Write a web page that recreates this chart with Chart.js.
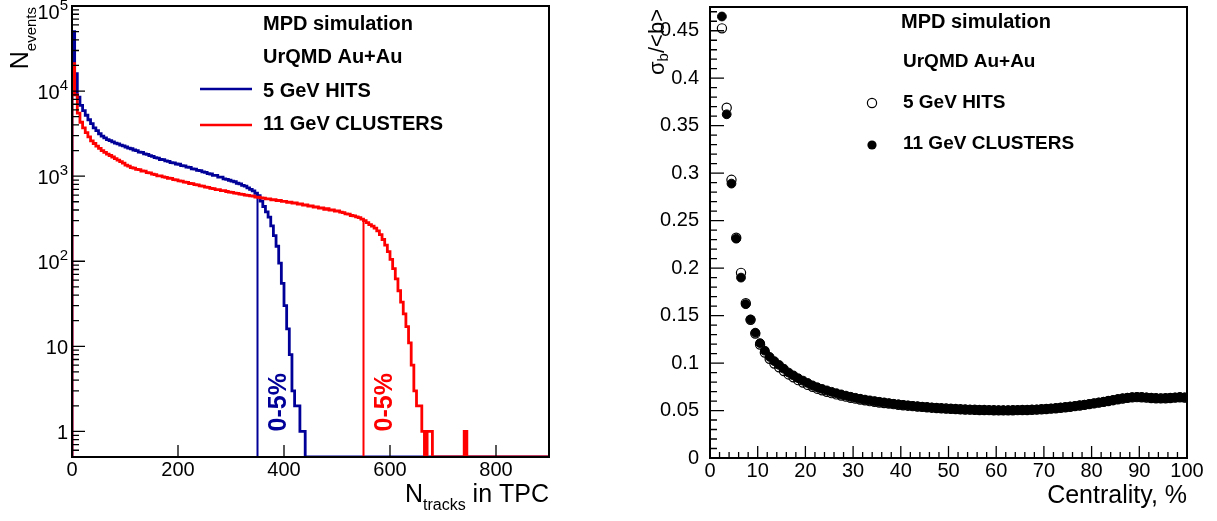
<!DOCTYPE html>
<html>
<head>
<meta charset="utf-8">
<title>MPD simulation</title>
<script src="https://cdn.jsdelivr.net/npm/chart.js@4.4.1/dist/chart.umd.min.js"></script>
<style>
  html, body { margin: 0; padding: 0; background: #fff; }
  #wrap { position: relative; width: 1217px; height: 521px; }
  canvas { position: absolute; top: 0; }
</style>
</head>
<body>
<div id="wrap">
  <canvas id="nTracks" width="608" height="521" style="left:0"></canvas>
  <canvas id="sigmaB" width="609" height="521" style="left:608px"></canvas>
</div>
<script>
// ---- left panel: N_tracks in TPC, events per 5-track bin starting at 0 ----
var BIN_WIDTH = 5;
var N_MAX = 900;
var EVENTS_MIN = 0.5;
var hitsCounts = [
  50000, 16000, 8500, 6800, 5900, 5200, 4600, 4150, 3700, 3420,
  3150, 2960, 2820, 2690, 2610, 2530, 2440, 2390, 2310, 2270,
  2200, 2140, 2100, 2030, 2000, 1920, 1900, 1830, 1800, 1740,
  1710, 1650, 1630, 1570, 1560, 1510, 1490, 1440, 1430, 1390,
  1380, 1330, 1320, 1280, 1270, 1220, 1210, 1170, 1160, 1120,
  1110, 1070, 1060, 1020, 1020, 975, 975, 930, 915, 895,
  875, 860, 825, 810, 780, 765, 730, 700, 670, 630,
  590, 510, 440, 380, 330, 260, 200, 150, 95, 55,
  30, 16, 8, 3, 2, 2, 1, 1
];
var clusterCounts = [
  21000, 9000, 5500, 4300, 3700, 3250, 2900, 2600, 2420, 2260,
  2120, 2000, 1900, 1820, 1750, 1680, 1610, 1540, 1480, 1420,
  1350, 1310, 1260, 1245, 1200, 1195, 1150, 1145, 1100, 1095,
  1055, 1045, 1010, 1005, 980, 970, 945, 940, 910, 905,
  880, 875, 850, 845, 820, 815, 795, 790, 770, 765,
  745, 740, 720, 715, 695, 695, 675, 675, 660, 650,
  645, 632, 628, 615, 612, 600, 596, 585, 582, 568,
  565, 555, 552, 540, 540, 528, 530, 515, 518, 505,
  505, 493, 495, 482, 484, 470, 472, 458, 460, 445,
  447, 433, 435, 420, 424, 408, 415, 398, 400, 388,
  390, 378, 372, 360, 358, 345, 342, 332, 326, 312,
  300, 285, 270, 258, 245, 228, 205, 180, 155, 130,
  105, 82, 62, 45, 33, 24, 17, 11, 6, 3,
  2, 2, 1, 0, 1, 1, 0, 0, 0, 0,
  0, 0, 0, 0, 0, 0, 0, 0, 1
];
var hitsCut = 350;      // 0-5% centrality cut, 5 GeV HITS
var clusterCut = 550;   // 0-5% centrality cut, 11 GeV CLUSTERS
var nTrackTicks = [0, 200, 400, 600, 800];
var eventDecades = [0, 1, 2, 3, 4, 5];

// ---- right panel: sigma_b/<b> per 1% centrality bin, first bin centred at 2.5 ----
var CENT_FIRST = 2.5;
var CENT_STEP = 1;
var sigmaHits = [
  0.4525, 0.369, 0.293, 0.232, 0.195, 0.163, 0.1455, 0.131, 0.1195, 0.111,
  0.1045, 0.0995, 0.0955, 0.0915, 0.088, 0.085, 0.082, 0.0795, 0.077, 0.075,
  0.073, 0.0713, 0.0698, 0.0683, 0.067, 0.0658, 0.0646, 0.0635, 0.0625, 0.0616,
  0.0607, 0.0599, 0.0592, 0.0585, 0.0579, 0.0573, 0.0567, 0.0561, 0.0556, 0.0551,
  0.0546, 0.0542, 0.0538, 0.0534, 0.053, 0.0527, 0.0524, 0.0521, 0.0518, 0.0516,
  0.0513, 0.0511, 0.0509, 0.0508, 0.0506, 0.0505, 0.0504, 0.0503, 0.0502, 0.0502,
  0.0502, 0.0503, 0.0504, 0.0505, 0.0506, 0.0508, 0.051, 0.0513, 0.0516, 0.052,
  0.0524, 0.0529, 0.0534, 0.054, 0.0546, 0.0553, 0.056, 0.0567, 0.0575, 0.0583,
  0.0591, 0.06, 0.0609, 0.0618, 0.0626, 0.0633, 0.0638, 0.0641, 0.064, 0.0636,
  0.0632, 0.0629, 0.0628, 0.0629, 0.0632, 0.0636, 0.064, 0.0636
];
var sigmaClusters = [
  0.465, 0.362, 0.289, 0.231, 0.19, 0.162, 0.146, 0.132, 0.121, 0.113,
  0.1065, 0.102, 0.098, 0.094, 0.09, 0.087, 0.084, 0.0815, 0.079, 0.0765,
  0.0745, 0.0728, 0.0712, 0.0697, 0.0683, 0.067, 0.0657, 0.0645, 0.0634, 0.0624,
  0.0615, 0.0607, 0.0599, 0.0592, 0.0585, 0.0578, 0.0571, 0.0565, 0.0559, 0.0553,
  0.0548, 0.0543, 0.0539, 0.0535, 0.0531, 0.0527, 0.0524, 0.0521, 0.0518, 0.0515,
  0.0513, 0.0511, 0.0509, 0.0507, 0.0506, 0.0505, 0.0504, 0.0503, 0.0503, 0.0503,
  0.0503, 0.0504, 0.0505, 0.0506, 0.0507, 0.0509, 0.0511, 0.0514, 0.0517, 0.0521,
  0.0525, 0.053, 0.0535, 0.0541, 0.0547, 0.0554, 0.0561, 0.0568, 0.0576, 0.0584,
  0.0592, 0.0601, 0.061, 0.0619, 0.0627, 0.0634, 0.064, 0.0643, 0.0642, 0.0638,
  0.0634, 0.0631, 0.0629, 0.063, 0.0633, 0.0637, 0.0641, 0.0638
];
var centralityTicks = [0, 10, 20, 30, 40, 50, 60, 70, 80, 90, 100];
var sigmaTicks = [0, 0.05, 0.1, 0.15, 0.2, 0.25, 0.3, 0.35, 0.4, 0.45];

var FONT = '"Liberation Sans", Arial, Helvetica, sans-serif';
var BLUE = '#000099';
var RED = '#ff0000';

// histogram as a step line; empty bins sit on the bottom of the log axis
function histPoints(counts) {
  var pts = [{ x: 0, y: EVENTS_MIN }];
  for (var i = 0; i < N_MAX / BIN_WIDTH; i++) {
    var v = i < counts.length ? counts[i] : 0;
    pts.push({ x: i * BIN_WIDTH, y: Math.max(v, EVENTS_MIN) });
  }
  pts.push({ x: N_MAX, y: pts[pts.length - 1].y });
  return pts;
}

function cutPoints(counts, cut) {
  return [{ x: cut, y: EVENTS_MIN }, { x: cut, y: counts[Math.floor(cut / BIN_WIDTH)] }];
}

function scatterPoints(values) {
  return values.map(function (v, i) { return { x: CENT_FIRST + i * CENT_STEP, y: v }; });
}

function txt(c, s, x, y, size, bold, align) {
  c.font = (bold ? 'bold ' : '') + size + 'px ' + FONT;
  c.textAlign = align || 'left';
  c.textBaseline = 'alphabetic';
  c.fillText(s, x, y);
  return c.measureText(s).width;
}

function width(c, s, size, bold) {
  c.font = (bold ? 'bold ' : '') + size + 'px ' + FONT;
  return c.measureText(s).width;
}

// ROOT-like frame: box plus ticks pointing into the pad
function rootFrame(opts) {
  return {
    id: 'rootFrame',
    afterDraw: function (chart) {
      var c = chart.ctx, a = chart.chartArea;
      var xs = chart.scales.x, ys = chart.scales.y;
      c.save();
      c.strokeStyle = '#000';
      c.lineWidth = 1.3;
      c.beginPath();
      opts.xTicks.forEach(function (t) {
        var px = xs.getPixelForValue(t[0]);
        c.moveTo(px, a.bottom);
        c.lineTo(px, a.bottom - t[1]);
      });
      opts.yTicks.forEach(function (t) {
        var py = ys.getPixelForValue(t[0]);
        c.moveTo(a.left, py);
        c.lineTo(a.left + t[1], py);
      });
      c.stroke();
      c.lineWidth = 2;
      c.strokeRect(a.left, a.top, a.right - a.left, a.bottom - a.top);
      c.fillStyle = '#000';
      opts.decorate(chart, c, a, xs, ys);
      c.restore();
    }
  };
}

function fixBox(w, h) {
  return function (s) {
    if (w) s.width = w;
    if (h) s.height = h;
    s.paddingTop = 0; s.paddingBottom = 0; s.paddingLeft = 0; s.paddingRight = 0;
  };
}

// ---------- left chart ----------
var leftXTicks = nTrackTicks.map(function (v) { return [v, 12]; });
var leftYTicks = [];
eventDecades.forEach(function (d) { leftYTicks.push([Math.pow(10, d), 13]); });
for (var d = -1; d < 5; d++) {
  for (var k = 2; k <= 9; k++) {
    var v = k * Math.pow(10, d);
    if (v >= EVENTS_MIN) leftYTicks.push([v, 7]);
  }
}

new Chart(document.getElementById('nTracks'), {
  type: 'line',
  data: {
    datasets: [
      { label: '11 GeV CLUSTERS', data: histPoints(clusterCounts), borderColor: RED, stepped: 'before', order: 0 },
      { label: 'cut 11 GeV', data: cutPoints(clusterCounts, clusterCut), borderColor: RED, borderWidth: 2, order: 1 },
      { label: '5 GeV HITS', data: histPoints(hitsCounts), borderColor: BLUE, stepped: 'before', order: 2 },
      { label: 'cut 5 GeV', data: cutPoints(hitsCounts, hitsCut), borderColor: BLUE, borderWidth: 2, order: 3 }
    ]
  },
  options: {
    responsive: false,
    animation: false,
    events: [],
    layout: { padding: { left: 0, right: 59, top: 6, bottom: 0 } },
    elements: { point: { radius: 0 }, line: { borderWidth: 2.8, tension: 0 } },
    plugins: { legend: { display: false }, tooltip: { enabled: false } },
    scales: {
      x: {
        type: 'linear', min: 0, max: N_MAX,
        grid: { display: false }, border: { display: false },
        ticks: { stepSize: 200, includeBounds: false, autoSkip: false, maxRotation: 0,
                 padding: -7, color: '#000', font: { family: FONT, size: 20 } },
        afterFit: fixBox(0, 64)
      },
      y: {
        type: 'logarithmic', min: EVENTS_MIN, max: 100000,
        grid: { display: false }, border: { display: false },
        ticks: { display: false },
        afterFit: fixBox(72, 0)
      }
    }
  },
  plugins: [rootFrame({
    xTicks: leftXTicks,
    yTicks: leftYTicks,
    decorate: function (chart, c, a, xs, ys) {
      // decade labels with superscript exponents
      eventDecades.forEach(function (d) {
        var py = ys.getPixelForValue(Math.pow(10, d));
        var xr = a.left - 4;
        if (d === 0) { txt(c, '1', xr, py + 8, 20, false, 'right'); return; }
        if (d === 1) { txt(c, '10', xr, py + 8, 20, false, 'right'); return; }
        var base = Math.max(py + 8, 19);
        var we = txt(c, String(d), xr, base - 9, 15, false, 'right');
        txt(c, '10', xr - we, base, 20, false, 'right');
      });
      // legend
      txt(c, 'MPD simulation', 263, 30, 20, true);
      txt(c, 'UrQMD Au+Au', 263, 63, 20, true);
      c.lineWidth = 2.5;
      c.strokeStyle = BLUE;
      c.beginPath(); c.moveTo(200, 89); c.lineTo(252, 89); c.stroke();
      c.strokeStyle = RED;
      c.beginPath(); c.moveTo(200, 125); c.lineTo(252, 125); c.stroke();
      txt(c, '5 GeV HITS', 263, 97, 20, true);
      txt(c, '11 GeV CLUSTERS', 263, 130, 20, true);
      // x title, right aligned at the axis end
      var w1 = width(c, 'N', 25), w2 = width(c, 'tracks', 16), w3 = width(c, ' in TPC', 25);
      var x0 = a.right - (w1 + w2 + w3);
      txt(c, 'N', x0, 502, 25);
      txt(c, 'tracks', x0 + w1, 510, 16);
      txt(c, ' in TPC', x0 + w1 + w2, 502, 25);
      // y title, rotated, ending at the top of the frame
      var wn = width(c, 'N', 25), we2 = width(c, 'events', 15);
      c.save();
      c.translate(28, a.top + wn + we2 + 1);
      c.rotate(-Math.PI / 2);
      txt(c, 'N', 0, 0, 25);
      txt(c, 'events', wn, 8, 15);
      c.restore();
      // 0-5% labels next to the cut lines
      [[404, BLUE], [604, RED]].forEach(function (l) {
        c.save();
        c.fillStyle = l[1];
        c.translate(xs.getPixelForValue(l[0]), ys.getPixelForValue(1));
        c.rotate(-Math.PI / 2);
        txt(c, '0-5%', 0, 0, 25, true);
        c.restore();
      });
    }
  })]
});

// ---------- right chart ----------
var rightXTicks = [], rightYTicks = [];
for (var cx = 0; cx <= 100; cx += 2) rightXTicks.push([cx, cx % 10 === 0 ? 12 : 6]);
for (var cy = 0; cy <= 47; cy += 1) rightYTicks.push([cy / 100, cy % 5 === 0 ? 14 : 7]);

new Chart(document.getElementById('sigmaB'), {
  type: 'scatter',
  data: {
    datasets: [
      { label: '11 GeV CLUSTERS', data: scatterPoints(sigmaClusters), order: 0,
        pointRadius: 4.4, pointBorderWidth: 1, pointBackgroundColor: '#000', pointBorderColor: '#000' },
      { label: '5 GeV HITS', data: scatterPoints(sigmaHits), order: 1,
        pointRadius: 4.6, pointBorderWidth: 1.2, pointBackgroundColor: 'rgba(255,255,255,0)', pointBorderColor: '#000' }
    ]
  },
  options: {
    responsive: false,
    animation: false,
    events: [],
    layout: { padding: { left: 0, right: 30, top: 7, bottom: 0 } },
    plugins: { legend: { display: false }, tooltip: { enabled: false } },
    scales: {
      x: {
        type: 'linear', min: 0, max: 100,
        grid: { display: false }, border: { display: false },
        ticks: { stepSize: 10, includeBounds: false, autoSkip: false, maxRotation: 0,
                 padding: -7, color: '#000', font: { family: FONT, size: 20 } },
        afterFit: fixBox(0, 63)
      },
      y: {
        type: 'linear', min: 0, max: 0.475,
        grid: { display: false }, border: { display: false },
        ticks: { stepSize: 0.05, includeBounds: false, autoSkip: false, padding: 3,
                 color: '#000', font: { family: FONT, size: 20 },
                 callback: function (v) { return String(+v.toFixed(2)); } },
        afterFit: fixBox(102, 0)
      }
    }
  },
  plugins: [rootFrame({
    xTicks: rightXTicks,
    yTicks: rightYTicks,
    decorate: function (chart, c, a) {
      txt(c, 'MPD simulation', 293, 28, 20, true);
      txt(c, 'UrQMD Au+Au', 295, 67, 19, true);
      c.lineWidth = 1.2;
      c.strokeStyle = '#000';
      c.beginPath(); c.arc(264, 103, 4.6, 0, Math.PI * 2); c.stroke();
      c.beginPath(); c.arc(264, 145, 4.6, 0, Math.PI * 2); c.fill();
      txt(c, '5 GeV HITS', 295, 108, 19, true);
      txt(c, '11 GeV CLUSTERS', 295, 149, 19, true);
      txt(c, 'Centrality, %', a.right, 503, 25, false, 'right');
      var ws = width(c, '\u03c3', 22), wb = width(c, 'b', 15), wr = width(c, '/<b>', 22);
      c.save();
      c.translate(56, 9 + ws + wb + wr);
      c.rotate(-Math.PI / 2);
      txt(c, '\u03c3', 0, 0, 22);
      txt(c, 'b', ws, 4, 15);
      txt(c, '/<b>', ws + wb, 0, 22);
      c.restore();
    }
  })]
});
</script>
</body>
</html>
